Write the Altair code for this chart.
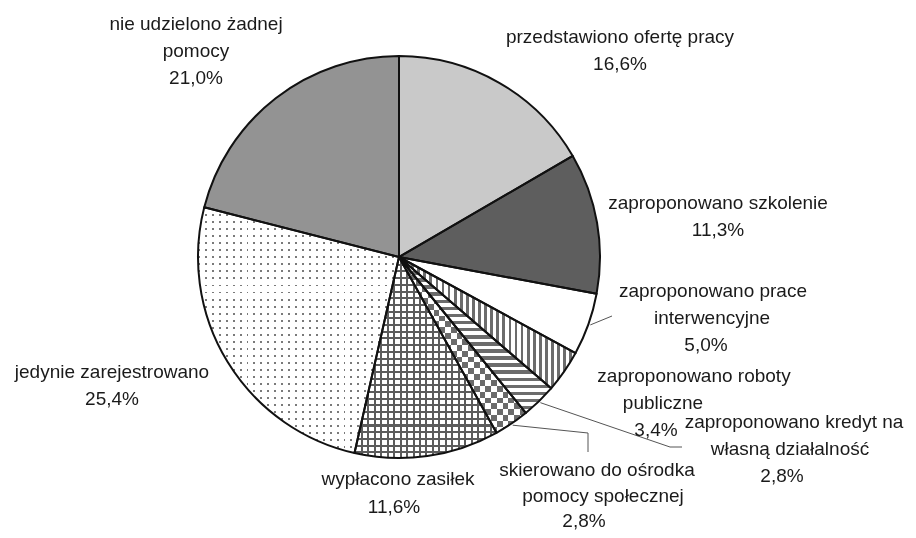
import math
import altair as alt
import pandas as pd

# ---------------- data ----------------
category_lines = [
    ["przedstawiono ofertę pracy"],
    ["zaproponowano szkolenie"],
    ["zaproponowano prace", "interwencyjne"],
    ["zaproponowano roboty", "publiczne"],
    ["zaproponowano kredyt na", "własną działalność"],
    ["skierowano do ośrodka", "pomocy społecznej"],
    ["wypłacono zasiłek"],
    ["jedynie zarejestrowano"],
    ["nie udzielono żadnej", "pomocy"],
]
categories = [" ".join(l) for l in category_lines]
shares = [16.6, 11.3, 5.0, 3.4, 2.8, 2.8, 11.6, 25.4, 21.0]

# ---------------- layout (page pixels) ----------------
OFF = 8
CX, CY, R = 399 - OFF, 257 - OFF, 201
# per-line centre x positions and first-line centre y of each label block
label_x = [
    [620, 620],
    [718, 718],
    [713, 712, 706],
    [694, 663, 656],
    [794, 790, 782],
    [597, 603, 584],
    [398, 394],
    [112, 112],
    [196, 196, 196],
]
label_y = [37, 203, 291, 376, 422, 470, 479, 372, 24]
LINE_STEP = [27, 27, 27, 27, 27, 25.5, 28, 27, 27]
# leader lines: elbow and end points (page pixels)
leader_pts = {
    2: (612, 316, 612, 316),
    4: (670, 447, 682, 447),
    5: (588, 433, 588, 452),
}

def pct(v):
    return f"{v:.1f}".replace(".", ",") + "%"

df = pd.DataFrame({"idx": list(range(len(categories))), "cat": categories, "share": shares})

rows = []
for i, lines in enumerate(category_lines):
    for k, t in enumerate(lines + [pct(shares[i])]):
        rows.append({"text": t, "px": label_x[i][k] - OFF, "py": label_y[i] - OFF + k * LINE_STEP[i]})
labels_df = pd.DataFrame(rows)

leader_df = pd.DataFrame([
    {"idx": i, "ex": v[0] - OFF, "ey": v[1] - OFF, "fx": v[2] - OFF, "fy": v[3] - OFF}
    for i, v in leader_pts.items()
])

# ---------------- pattern helpers ----------------
total = sum(shares)

def slice_bbox(i):
    a0 = sum(shares[:i]) / total * 2 * math.pi
    a1 = sum(shares[: i + 1]) / total * 2 * math.pi
    xs, ys = [0.0], [0.0]
    for s in range(401):
        t = a0 + (a1 - a0) * s / 400
        xs.append(R * math.sin(t))
        ys.append(-R * math.cos(t))
    return max(xs) - min(xs), max(ys) - min(ys)

def stripes(n, on, off, frac, vertical_lines=True):
    stops = []
    for k in range(n):
        a = k / n
        b = (k + frac) / n
        c = (k + 1) / n
        stops += [
            {"offset": round(a, 5), "color": on},
            {"offset": round(b, 5), "color": on},
            {"offset": round(b, 5), "color": off},
            {"offset": round(c, 5), "color": off},
        ]
    g = {"gradient": "linear", "stops": stops, "x1": 0, "y1": 0}
    if vertical_lines:
        g.update({"x2": 1, "y2": 0})
    else:
        g.update({"x2": 0, "y2": 1})
    return g

CLEAR = "rgba(255,255,255,0)"

# ---------------- chart ----------------
base = (
    alt.Chart(df)
    .transform_window(cum="sum(share)", sort=[alt.SortField("idx")], frame=[None, 0])
    .transform_joinaggregate(total="sum(share)")
    .transform_calculate(
        f0="(datum.cum - datum.share) / datum.total",
        f1="datum.cum / datum.total",
        mid="(datum.cum - datum.share / 2) / datum.total * 2 * PI",
    )
)

theta_enc = dict(
    theta=alt.Theta("f0:Q", scale=alt.Scale(domain=[0, 1])),
    theta2="f1:Q",
    x=alt.value(CX),
    y=alt.value(CY),
)

def arc(i, **kw):
    return base.transform_filter(alt.datum.idx == i).mark_arc(outerRadius=R, **kw).encode(**theta_enc)

layers = []
# solid slices
layers.append(arc(0, fill="#c9c9c9"))
layers.append(arc(1, fill="#5e5e5e"))
layers.append(arc(2, fill="#ffffff"))
# vertical stripes
w, h = slice_bbox(3)
layers.append(arc(3, fill=stripes(max(1, round(w / 6)), "#6c6c6c", "#ffffff", 0.45, True)))
# horizontal stripes
w, h = slice_bbox(4)
layers.append(arc(4, fill=stripes(max(1, round(h / 7)), "#6c6c6c", "#ffffff", 0.5, False)))
# checkerboard via difference blending
w, h = slice_bbox(5)
layers.append(arc(5, fill="#ffffff"))
layers.append(arc(5, fill=stripes(max(1, round(w / 12)), "#ffffff", "#000000", 0.5, True), blend="difference"))
layers.append(arc(5, fill=stripes(max(1, round(h / 12)), "#ffffff", "#000000", 0.5, False), blend="difference"))
layers.append(arc(5, fill="#6a6a6a", blend="lighten"))
# grid
w, h = slice_bbox(6)
layers.append(arc(6, fill="#ffffff"))
layers.append(arc(6, fill=stripes(max(1, round(w / 6.6)), "#5c5c5c", CLEAR, 0.3, True)))
layers.append(arc(6, fill=stripes(max(1, round(h / 6.6)), "#5c5c5c", CLEAR, 0.3, False)))
# dots
w, h = slice_bbox(7)
layers.append(arc(7, fill="#7a7a7a"))
layers.append(arc(7, fill=stripes(max(1, round(w / 7)), CLEAR, "#ffffff", 0.28, True)))
layers.append(arc(7, fill=stripes(max(1, round(h / 7)), CLEAR, "#ffffff", 0.28, False)))
# solid mid gray
layers.append(arc(8, fill="#939393"))

# outlines
layers.append(
    base.mark_arc(outerRadius=R, fillOpacity=0, stroke="#111111", strokeWidth=2, strokeJoin="round").encode(**theta_enc)
)

# leader lines
lead = base.transform_lookup(
    lookup="idx", from_=alt.LookupData(leader_df, "idx", ["ex", "ey", "fx", "fy"])
).transform_filter("isValid(datum.ex)").transform_calculate(
    sx=f"{CX} + {R + 2} * sin(datum.mid)",
    sy=f"{CY} - {R + 2} * cos(datum.mid)",
)
layers.append(
    lead.mark_rule(color="#555555", strokeWidth=1).encode(
        x=alt.X("sx:Q", scale=None), y=alt.Y("sy:Q", scale=None),
        x2="ex:Q", y2="ey:Q",
    )
)
layers.append(
    lead.mark_rule(color="#555555", strokeWidth=1).encode(
        x=alt.X("ex:Q", scale=None), y=alt.Y("ey:Q", scale=None),
        x2="fx:Q", y2="fy:Q",
    )
)

# labels
layers.append(
    alt.Chart(labels_df).mark_text(
        font="Liberation Sans", fontSize=19, align="center", baseline="middle", color="#1a1a1a"
    ).encode(
        x=alt.X("px:Q", scale=None), y=alt.Y("py:Q", scale=None), text="text:N"
    )
)

chart = (
    alt.layer(*layers)
    .properties(width=900, height=522, autosize=alt.AutoSizeParams(type="none"), padding=0)
    .configure_view(strokeWidth=0)
)

chart.save("out.html", embed_options={"renderer": "svg", "actions": False})
